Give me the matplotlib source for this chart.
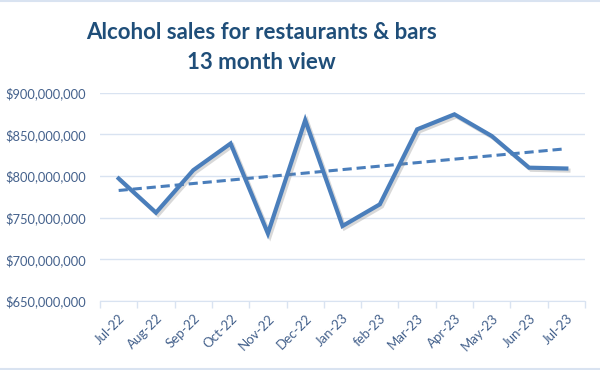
import numpy as np
import matplotlib.pyplot as plt
import matplotlib.patheffects as pe
from matplotlib.lines import Line2D
from matplotlib.ticker import FuncFormatter, FixedLocator

months = ['Jul-22', 'Aug-22', 'Sep-22', 'Oct-22', 'Nov-22', 'Dec-22', 'Jan-23',
          'feb-23', 'Mar-23', 'Apr-23', 'May-23', 'Jun-23', 'Jul-23']
sales = [797e6, 756e6, 807e6, 839e6, 731e6, 867e6, 740e6,
         766e6, 856e6, 874e6, 848e6, 810e6, 809e6]

TITLE_C = '#1F4E79'
TICK_C = '#44618C'
LINE_C = '#4A7EBB'
GRID_C = '#D9E3F1'

plt.rcParams['font.family'] = ['Lato', 'DejaVu Sans']

fig = plt.figure(figsize=(6, 3.7), dpi=100)
ax = fig.add_axes([0.1667, 0.1865, 0.8083, 0.563])

x = np.arange(len(months))
ax.plot(x, sales, color=LINE_C, lw=3.0, solid_joinstyle='miter', zorder=3,
        path_effects=[pe.SimpleLineShadow(offset=(1.5, -1.5), shadow_color='gray', alpha=0.3),
                      pe.Normal()])

# linear trendline
k, b = np.polyfit(x, sales, 1)
ax.plot(x, k * x + b, color=LINE_C, lw=2.2, ls=(0, (3, 1.6)), zorder=2)

ax.set_xlim(-0.5, len(months) - 0.5)
ax.set_ylim(650e6, 900e6)
ax.set_yticks(np.arange(650e6, 900e6 + 1, 50e6))
ax.yaxis.set_major_formatter(FuncFormatter(lambda v, p: '${:,.0f}'.format(v)))
ax.grid(axis='y', color=GRID_C, lw=1)
ax.set_axisbelow(True)

ax.set_xticks(x)
ax.set_xticklabels(months, rotation=45, ha='right', rotation_mode='anchor')
ax.xaxis.set_minor_locator(FixedLocator(np.arange(-0.5, len(months), 1)))
ax.tick_params(axis='x', which='major', length=0, pad=8, labelsize=9.5, labelcolor=TICK_C)
ax.tick_params(axis='x', which='minor', length=5, color=GRID_C, width=1)
ax.tick_params(axis='y', length=0, pad=10, labelsize=9.3, labelcolor=TICK_C)

for s in ['top', 'right', 'left']:
    ax.spines[s].set_visible(False)
ax.spines['bottom'].set_color(GRID_C)

fig.text(0.435, 0.911, 'Alcohol sales for restaurants & bars', ha='center', va='center',
         fontsize=16, fontweight='bold', color=TITLE_C)
fig.text(0.435, 0.83, '13 month view', ha='center', va='center',
         fontsize=16, fontweight='bold', color=TITLE_C)

fig.add_artist(Line2D([0, 1], [0.998, 0.998], color=GRID_C, lw=1.5))
fig.add_artist(Line2D([0, 1], [0.003, 0.003], color=GRID_C, lw=1.5))

fig.savefig('out.png', dpi=100)
